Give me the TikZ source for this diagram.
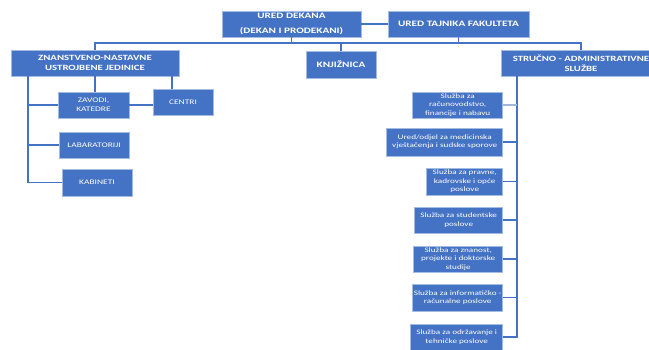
\documentclass[tikz,border=0pt]{standalone}
\usepackage{fontspec}
\setmainfont{Carlito}[FakeStretch=1.35]
\definecolor{boxblue}{RGB}{68,114,196}
\definecolor{boxedge}{RGB}{165,188,226}
\definecolor{lineblue}{RGB}{68,114,196}
\definecolor{lightline}{RGB}{160,182,218}
\begin{document}
\begin{tikzpicture}[x=1pt,y=-1pt,
  box/.style={draw=boxedge, fill=boxblue, line width=0.6pt, text=white, inner sep=0pt, align=center},
  topbox/.style={box, font=\fontsize{8.3}{15}\selectfont\bfseries},
  midbox/.style={box, font=\fontsize{8}{10}\selectfont\bfseries},
  smallbox/.style={box, font=\fontsize{7}{9}\selectfont},
  subbox/.style={box, anchor=east, font=\fontsize{6.8}{8.4}\selectfont},
  conn/.style={draw=lineblue, line width=1.2pt}]
\clip (0,0) rectangle (649,349);
\path[use as bounding box] (0,0) rectangle (649,349);

% top level
\node[topbox, minimum width=139, minimum height=26] (ud) at (291.5,24) {URED DEKANA\\(DEKAN I PRODEKANI)};
\node[topbox, minimum width=141, minimum height=26] (utf) at (458.5,24) {URED TAJNIKA FAKULTETA};
\node[midbox, minimum width=168, minimum height=26] (zn) at (95,63) {ZNANSTVENO-NASTAVNE\\USTROJBENE JEDINICE};
\node[topbox, minimum width=70, minimum height=27] (knj) at (341,64.5) {KNJIŽNICA};
\node[midbox, minimum width=160, minimum height=26] (ss) at (581,63) {STRUČNO - ADMINISTRATIVNE\\SLUŽBE};

% left branch
\node[smallbox, minimum width=71, minimum height=26] (zav) at (93.5,105) {ZAVODI,\\KATEDRE};
\node[smallbox, minimum width=60, minimum height=26] (cen) at (183,102) {CENTRI};
\node[smallbox, minimum width=70, minimum height=26] (lab) at (94,145) {LABARATORIJI};
\node[smallbox, minimum width=70, minimum height=27] (kab) at (97,182.5) {KABINETI};

% right branch
\node[subbox, minimum width=90, minimum height=26] (r1) at (503,105) {Služba za\\računovodstvo,\\financije i nabavu};
\node[subbox, minimum width=116, minimum height=28] (r2) at (503,142) {Ured/odjel za medicinska\\vještačenja i sudske sporove};
\node[subbox, minimum width=76, minimum height=27] (r3) at (503,181.5) {Služba za pravne,\\kadrovske i opće\\poslove};
\node[subbox, minimum width=88, minimum height=26] (r4) at (503,220) {Služba za studentske\\poslove};
\node[subbox, minimum width=89, minimum height=26] (r5) at (503,259) {Služba za znanost,\\projekte i doktorske\\studije};
\node[subbox, minimum width=90, minimum height=27] (r6) at (503,297.5) {Služba za informatičko -\\računalne poslove};
\node[subbox, minimum width=92, minimum height=26] (r7) at (503,337) {Služba za održavanje i\\tehničke poslove};

% helper coordinates
\coordinate (bus) at (0,43);
\coordinate (lv) at (28,0);
\coordinate (rv) at (517,0);
\coordinate (cdrop) at (172,0);

% connectors
\draw[conn] (ud) -- (utf);
\draw[conn] (ud.south) -- (ud.south |- bus);
\draw[conn] (utf.south) -- (utf.south |- bus);
\draw[conn] (zn.north) -- (zn.north |- bus) -- (ss.north |- bus) -- (ss.north);
\draw[conn] (knj.north |- bus) -- (knj.north);

\draw[conn] (zn.south -| lv) |- (kab.west);
\draw[conn] (lv |- zav.west) -- (zav.west);
\draw[conn] (lv |- lab.west) -- (lab.west);
\draw[conn] (zn.south) -- (zn.south |- zav.north);
\draw[conn] (zn.south -| cdrop) -- (cdrop |- cen.north);
\draw[conn] (zav.east) -- (zav.east -| cen.west);

\draw[conn] (ss.south -| rv) |- (r7.east);
\draw[conn, draw=lightline] (rv |- r1.east) -- (r1.east);
\foreach \r in {r2,r3,r4,r5,r6}{\draw[conn] (rv |- \r.east) -- (\r.east);}
\end{tikzpicture}
\end{document}
